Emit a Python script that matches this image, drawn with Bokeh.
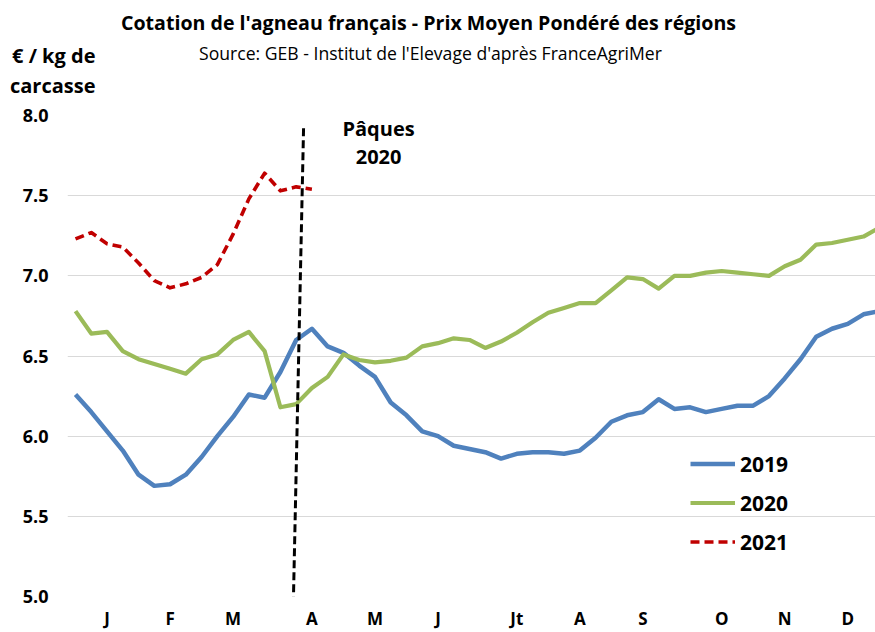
from bokeh.plotting import figure
from bokeh.layouts import column
from bokeh.models import Range1d, FixedTicker, Label, Legend, LegendItem
from bokeh.embed import file_html
from bokeh.resources import INLINE

# ---- data ----
weeks = list(range(1, 53))
prix_2019 = [6.26, 6.15, 6.03, 5.91, 5.76, 5.69, 5.70, 5.76, 5.87, 6.00,
             6.12, 6.26, 6.24, 6.40, 6.60, 6.67, 6.56, 6.52, 6.44, 6.37,
             6.21, 6.13, 6.03, 6.00, 5.94, 5.92, 5.90, 5.86, 5.89, 5.90,
             5.90, 5.89, 5.91, 5.99, 6.09, 6.13, 6.15, 6.23, 6.17, 6.18,
             6.15, 6.17, 6.19, 6.19, 6.25, 6.36, 6.48, 6.62, 6.67, 6.70,
             6.76, 6.78]
prix_2020 = [6.78, 6.64, 6.65, 6.53, 6.48, 6.45, 6.42, 6.39, 6.48, 6.51,
             6.60, 6.65, 6.53, 6.18, 6.20, 6.30, 6.37, 6.51, 6.475, 6.46,
             6.47, 6.49, 6.56, 6.58, 6.61, 6.60, 6.55, 6.59, 6.645, 6.71,
             6.77, 6.80, 6.83, 6.83, 6.91, 6.99, 6.98, 6.92, 7.00, 7.00,
             7.02, 7.03, 7.02, 7.01, 7.00, 7.06, 7.10, 7.195, 7.205, 7.225,
             7.245, 7.30]
weeks_2021 = list(range(1, 17))
prix_2021 = [7.23, 7.27, 7.20, 7.18, 7.08, 6.97, 6.925, 6.95, 6.99, 7.07,
             7.26, 7.48, 7.64, 7.53, 7.555, 7.54]
month_ticks = [3, 7, 11, 16, 20, 24, 29, 33, 37, 42, 46, 50]
month_labels = ["J", "F", "M", "A", "M", "J", "Jt", "A", "S", "O", "N", "D"]
y_ticks = [5.0, 5.5, 6.0, 6.5, 7.0, 7.5, 8.0]
unit_rows = [55, 85]
unit_labels = ["€ / kg de", "carcasse"]
paques_x = [15.47, 14.83]
paques_y = [7.92, 5.0]

FONT = "Open Sans"
BLUE = "#4f81bd"
GREEN = "#9bbb59"
RED = "#c00000"
W = 875
LEFT = 67
TOP_H = 100


def style_axis(ax, size):
    ax.axis_line_color = None
    ax.major_tick_line_color = None
    ax.minor_tick_line_color = None
    ax.major_tick_out = 0
    ax.major_tick_in = 0
    ax.minor_tick_out = 0
    ax.minor_tick_in = 0
    ax.major_label_text_font = FONT
    ax.major_label_text_font_style = "bold"
    ax.major_label_text_font_size = size
    ax.major_label_text_color = "black"


def lab(fig, text, x, y, size, bold=True, align="center"):
    fig.add_layout(Label(x=x, y=y, text=text, text_font=FONT,
                         text_font_size=size,
                         text_font_style="bold" if bold else "normal",
                         text_align=align, text_baseline="middle",
                         text_color="black"))


# ---- header (titles + unit) ----
top = figure(width=W, height=TOP_H, x_range=Range1d(LEFT, W), y_range=Range1d(TOP_H, 0),
             x_axis_type=None,
             output_backend="svg", toolbar_location=None,
             min_border_left=LEFT, min_border_right=0,
             min_border_top=0, min_border_bottom=0)
top.outline_line_color = None
top.xgrid.visible = False
top.ygrid.visible = False
top.yaxis.ticker = FixedTicker(ticks=unit_rows)
top.yaxis.major_label_overrides = {t: l for t, l in zip(unit_rows, unit_labels)}
style_axis(top.yaxis, "20px")
top.yaxis.major_label_standoff = -28

lab(top, "Cotation de l'agneau français - Prix Moyen Pondéré des régions", 428, 22, "19.6px")
lab(top, "Source: GEB - Institut de l'Elevage d'après FranceAgriMer", 430, 52, "17.6px", bold=False)

# ---- main chart ----
p = figure(width=W, height=632 - TOP_H,
           x_range=Range1d(0.492, 51.76), y_range=Range1d(5.0, 8.0),
           output_backend="svg", toolbar_location=None,
           min_border_left=LEFT, min_border_right=0,
           min_border_top=15, min_border_bottom=35)
p.outline_line_color = None

p.xaxis.ticker = FixedTicker(ticks=month_ticks)
p.xaxis.major_label_overrides = {t: l for t, l in zip(month_ticks, month_labels)}
p.yaxis.ticker = FixedTicker(ticks=y_ticks)
p.yaxis.major_label_overrides = {t: f"{t:.1f}" for t in y_ticks}
style_axis(p.xaxis, "17px")
style_axis(p.yaxis, "18px")
p.yaxis.major_label_standoff = 19
p.xaxis.major_label_standoff = 10
p.xgrid.grid_line_color = None
p.ygrid.ticker = FixedTicker(ticks=y_ticks)
p.ygrid.grid_line_color = "#d9d9d9"
p.ygrid.grid_line_width = 1

r19 = p.line(weeks, prix_2019, line_color=BLUE, line_width=4.5, line_join="round")
r20 = p.line(weeks, prix_2020, line_color=GREEN, line_width=4.2, line_join="round")
r21 = p.line(weeks_2021, prix_2021, line_color=RED, line_width=3.6,
             line_dash="9 5", line_join="round")

p.line(paques_x, paques_y, line_color="black", line_width=3, line_dash="8 4")

lab(p, "Pâques", 20.23, 7.919, "20px")
lab(p, "2020", 20.23, 7.739, "20px")

legend = Legend(items=[LegendItem(label="2019", renderers=[r19]),
                       LegendItem(label="2020", renderers=[r20]),
                       LegendItem(label="2021", renderers=[r21])],
                location=(623, 40), orientation="vertical",
                glyph_width=45, glyph_height=29, label_height=29,
                spacing=10, padding=0, margin=0, label_standoff=5,
                border_line_color=None, background_fill_alpha=0,
                label_text_font=FONT, label_text_font_size="21px",
                label_text_font_style="bold", label_text_color="black")
p.add_layout(legend)

open("out.html", "w").write(file_html(column(top, p), INLINE))
